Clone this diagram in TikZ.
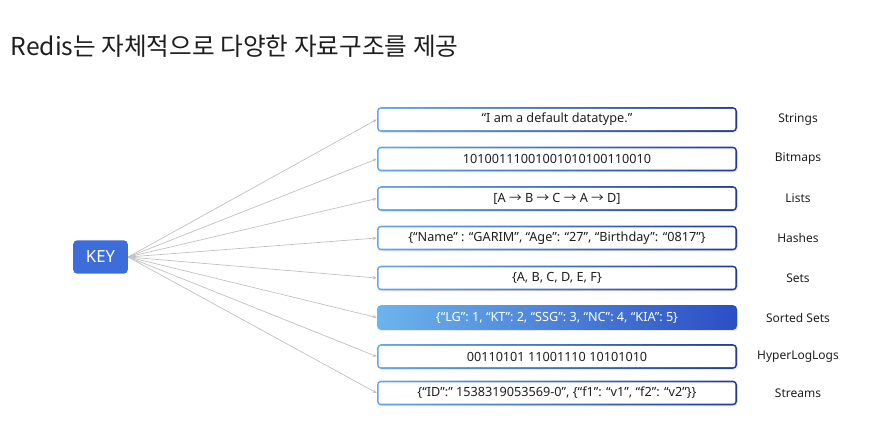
\documentclass[tikz,border=0pt]{standalone}
\usepackage{fontspec}
\setmainfont{Noto Sans}
\newfontfamily\krfont{Noto Sans CJK KR}
\usetikzlibrary{arrows.meta,shadows}

\definecolor{keyblue}{RGB}{60,109,219}
\definecolor{edgelight}{RGB}{100,168,232}
\definecolor{edgedark}{RGB}{36,58,150}
\definecolor{fillhi}{RGB}{108,180,236}
\definecolor{filllo}{RGB}{44,78,196}
\definecolor{linegray}{RGB}{190,190,190}
\definecolor{inkgray}{RGB}{30,30,30}

\tikzset{
    typebox/.style={rounded corners=3pt, minimum width=270pt, minimum height=18.5pt, inner sep=0pt,
        left color=edgelight, right color=edgedark, text=inkgray, font=\fontsize{9.5}{11}\selectfont,
        drop shadow={opacity=0.18, shadow xshift=0.6pt, shadow yshift=-0.8pt},
        path picture={\fill[white, rounded corners=2pt]
            ([shift={(1.2pt,1.2pt)}]path picture bounding box.south west) rectangle
            ([shift={(-1.2pt,-1.2pt)}]path picture bounding box.north east);}},
    hotbox/.style={rounded corners=3pt, minimum width=270pt, minimum height=18.5pt, inner sep=0pt,
        left color=fillhi, right color=filllo, text=white, font=\fontsize{9.5}{11}\selectfont,
        drop shadow={opacity=0.18, shadow xshift=0.6pt, shadow yshift=-0.8pt}},
    typename/.style={text=inkgray, font=\fontsize{9}{11}\selectfont},
    link/.style={draw=linegray, line width=0.5pt, -{Stealth[length=3pt,width=2.5pt]}}
}

\begin{document}
\begin{tikzpicture}[x=0.75pt, y=-0.75pt]
    \useasboundingbox (0,0) rectangle (878,436);

    % title
    \node[anchor=west, text=inkgray, font=\krfont\fontsize{18.5}{22}\selectfont] (title) at (6, 46) {Redis는 자체적으로 다양한 자료구조를 제공};

    % key
    \node[rounded corners=3pt, fill=keyblue, text=white, minimum width=41pt, minimum height=25pt,
        font=\fontsize{12.5}{14}\selectfont] (key) at (100.5, 257) {KEY};

    % value boxes
    \node[typebox] (strings) at (557, 119.5) {“I am a default datatype.”};
    \node[typebox] (bitmaps) at (557, 159) {10100111001001010100110010};
    \node[typebox] (lists) at (557, 198.5) {[A {\krfont →} B {\krfont →} C {\krfont →} A {\krfont →} D]};
    \node[typebox] (hashes) at (557, 238) {\{“Name” : “GARIM”, “Age”: “27”, “Birthday”: “0817”\}};
    \node[typebox] (sets) at (557, 278) {\{A, B, C, D, E, F\}};
    \node[hotbox] (zsets) at (557, 317.5) {\{“LG”: 1, “KT”: 2, “SSG”: 3, “NC”: 4, “KIA”: 5\}};
    \node[typebox] (hll) at (557, 356.5) {00110101 11001110 10101010};
    \node[typebox] (streams) at (557, 393) {\{“ID”:” 1538319053569-0”, \{“f1”: “v1”, “f2”: “v2”\}\}};

    % type names
    \node[typename] (n1) at (798, 119.5) {Strings};
    \node[typename] (n2) at (798, 159) {Bitmaps};
    \node[typename] (n3) at (798, 198.5) {Lists};
    \node[typename] (n4) at (798, 238) {Hashes};
    \node[typename] (n5) at (798, 278) {Sets};
    \node[typename] (n6) at (798, 317.5) {Sorted Sets};
    \node[typename] (n7) at (798, 356.5) {HyperLogLogs};
    \node[typename] (n8) at (798, 393) {Streams};

    % links from key
    \draw[link] (key.east) -- (strings.west);
    \draw[link] (key.east) -- (bitmaps.west);
    \draw[link] (key.east) -- (lists.west);
    \draw[link] (key.east) -- (hashes.west);
    \draw[link] (key.east) -- (sets.west);
    \draw[link] (key.east) -- (zsets.west);
    \draw[link] (key.east) -- (hll.west);
    \draw[link] (key.east) -- (streams.west);

\end{tikzpicture}
\end{document}
